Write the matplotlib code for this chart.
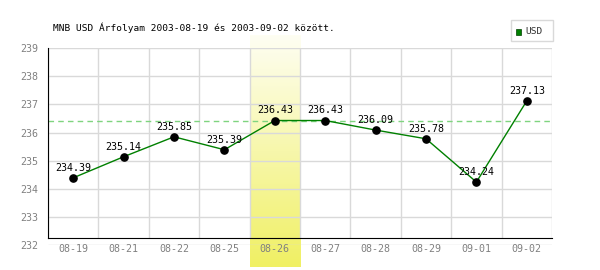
import numpy as np
import matplotlib
matplotlib.use('Agg')
import matplotlib.pyplot as plt
from matplotlib.colors import LinearSegmentedColormap

dates = ['08-19', '08-21', '08-22', '08-25', '08-26', '08-27', '08-28', '08-29', '09-01', '09-02']
rates = [234.39, 235.14, 235.85, 235.39, 236.43, 236.43, 236.09, 235.78, 234.24, 237.13]
yticks = [232, 233, 234, 235, 236, 237, 238, 239]
highlight = '08-26'
ref_rate = 236.43

plt.rcParams['font.family'] = ['DejaVu Sans Mono']

fig = plt.figure(figsize=(6, 2.7), dpi=100)
ax = fig.add_axes([48 / 600, (270 - 245) / 270, 504 / 600, (245 - 48.3) / 270])

x = np.arange(len(dates))
ax.set_xlim(-0.5, len(dates) - 0.5)
ax.set_ylim(232, 239)
axis_y = 232.25

# highlighted day, yellow gradient band
hi = dates.index(highlight)
cmap = LinearSegmentedColormap.from_list('hl', ['#fefef2', '#f0f064'])
grad = np.linspace(0, 1, 100).reshape(-1, 1)
ax.imshow(grad, cmap=cmap, aspect='auto', extent=(hi - 0.5, hi + 0.5, 231.2, 239.45),
          origin='upper', clip_on=False, zorder=0)

# grid
for v in yticks:
    ax.hlines(v, -0.5, len(dates) - 0.5, color='#d9d9d9', lw=1, zorder=1)
for b in np.arange(-0.5, len(dates), 1.0):
    ax.vlines(b, axis_y, 239, color='#d9d9d9', lw=1, zorder=1)

ax.axhline(ref_rate, color='#7fd47f', lw=1, ls=(0, (4, 3)), zorder=2)

ax.plot(x, rates, color='#008000', lw=1, zorder=3)
ax.plot(x, rates, 'o', color='black', ms=5.2, zorder=4)
for xi, r in zip(x, rates):
    ax.text(xi, r + 0.18, f'{r:.2f}', ha='center', va='bottom', fontsize=7.2, color='black', zorder=5)

for s in ['top', 'right']:
    ax.spines[s].set_visible(False)
ax.spines['left'].set_bounds(axis_y, 239)
ax.spines['left'].set_color('black')
ax.spines['bottom'].set_position(('data', axis_y))
ax.spines['bottom'].set_color('black')
ax.spines['bottom'].set_zorder(6)

ax.set_xticks(x)
ax.set_xticklabels(dates)
ax.set_yticks(yticks)
ax.tick_params(length=0, labelsize=7.2, labelcolor='#808080')
ax.tick_params(axis='x', pad=4)
ax.tick_params(axis='y', pad=7)

fig.text(53 / 600, 1 - 28 / 270, 'MNB USD Árfolyam 2003-08-19 és 2003-09-02 között.',
         fontsize=6.8, va='center', ha='left')

# legend box
fig.patches.append(plt.Rectangle((511 / 600, 1 - 41 / 270), 42 / 600, 21 / 270,
                                 transform=fig.transFigure, fill=False, ec='#d9d9d9', lw=1))
fig.patches.append(plt.Rectangle((516 / 600, 1 - 35 / 270), 5 / 600, 6 / 270,
                                 transform=fig.transFigure, fc='#008000', ec='#004000', lw=0.5))
fig.text(525 / 600, 1 - 32 / 270, 'USD', fontsize=6.8, va='center', ha='left', color='#333333')

fig.savefig('out.png', dpi=100)
